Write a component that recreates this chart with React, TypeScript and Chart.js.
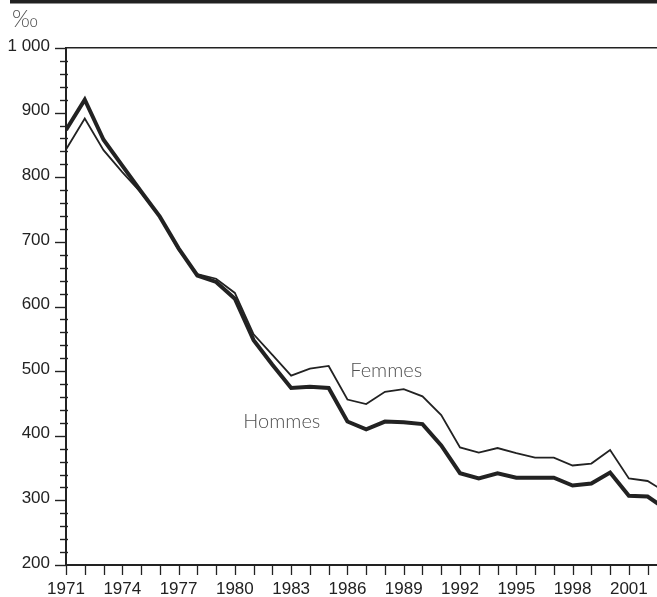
import React, { useEffect, useRef } from "react";
import { Chart, registerables } from "chart.js";

Chart.register(...registerables);

const years = [
  1971, 1972, 1973, 1974, 1975, 1976, 1977, 1978, 1979, 1980, 1981, 1982,
  1983, 1984, 1985, 1986, 1987, 1988, 1989, 1990, 1991, 1992, 1993, 1994,
  1995, 1996, 1997, 1998, 1999, 2000, 2001, 2002, 2003,
];

const hommes = [
  873, 920, 858, 818, 778, 739, 690, 648, 638, 612, 548, 510, 474, 476, 474,
  422, 410, 422, 421, 418, 385, 342, 334, 342, 335, 335, 335, 323, 326, 343,
  307, 306, 286,
];

const femmes = [
  843, 891, 842, 808, 776, 739, 688, 650, 643, 621, 557, 525, 493, 504, 508,
  456, 449, 468, 472, 461, 432, 382, 374, 381, 373, 366, 366, 354, 357, 378,
  334, 330, 312,
];

const yTickLabels: Record<number, string> = {
  200: "200",
  300: "300",
  400: "400",
  500: "500",
  600: "600",
  700: "700",
  800: "800",
  900: "900",
  1000: "1 000",
};

const seriesLabels = [
  { text: "Femmes", year: 1986.15, value: 491 },
  { text: "Hommes", year: 1980.45, value: 412 },
];

const unitLabel = "‰";

const INK = "#222222";
const GREY = "#505050";

const decorPlugin = {
  id: "decor",
  afterDraw(chart: any) {
    const { ctx, chartArea, scales } = chart;
    const xs = scales.x;
    const ys = scales.y;
    ctx.save();
    // top bar
    ctx.fillStyle = INK;
    ctx.fillRect(10, 0, chart.width - 10, 3.5);
    // y tick marks
    ctx.strokeStyle = INK;
    ctx.lineWidth = 1.4;
    ys.ticks.forEach((t: any) => {
      const y = Math.round(ys.getPixelForValue(t.value)) + 0.5;
      ctx.beginPath();
      if (t.value % 100 === 0) {
        ctx.moveTo(chartArea.left - 11, y);
        ctx.lineTo(chartArea.left, y);
      } else {
        ctx.moveTo(chartArea.left - 6, y);
        ctx.lineTo(chartArea.left + 2, y);
      }
      ctx.stroke();
    });
    // x tick marks
    ctx.lineWidth = 1.3;
    xs.ticks.forEach((t: any) => {
      if (!Number.isInteger(t.value)) return;
      const x = Math.round(xs.getPixelForValue(t.value)) + 0.5;
      ctx.beginPath();
      ctx.moveTo(x, chartArea.bottom);
      ctx.lineTo(x, chartArea.bottom + 10);
      ctx.stroke();
    });
    // series labels
    ctx.fillStyle = GREY;
    ctx.font = "300 20px Lato, 'Open Sans', sans-serif";
    ctx.textAlign = "left";
    ctx.textBaseline = "alphabetic";
    seriesLabels.forEach((l) => {
      ctx.fillText(l.text, xs.getPixelForValue(l.year), ys.getPixelForValue(l.value));
    });
    // unit label
    ctx.font = "300 23px Lato, 'DejaVu Sans', sans-serif";
    ctx.fillText(unitLabel, 12, 27);
    ctx.restore();
  },
};

export default function App() {
  const ref = useRef<HTMLCanvasElement | null>(null);

  useEffect(() => {
    if (!ref.current) return;
    const chart = new Chart(ref.current, {
      type: "line",
      data: {
        datasets: [
          {
            label: "Femmes",
            data: years.map((y, i) => ({ x: y, y: femmes[i] })),
            borderColor: INK,
            borderWidth: 1.8,
            pointRadius: 0,
            tension: 0,
            borderJoinStyle: "miter",
            fill: false,
          },
          {
            label: "Hommes",
            data: years.map((y, i) => ({ x: y, y: hommes[i] })),
            borderColor: INK,
            borderWidth: 4,
            pointRadius: 0,
            tension: 0,
            borderJoinStyle: "miter",
            fill: false,
          },
        ],
      },
      options: {
        responsive: false,
        animation: false,
        devicePixelRatio: 1,
        layout: { padding: { top: 48, left: 0, right: 0, bottom: 0 } },
        plugins: {
          legend: { display: false },
          tooltip: { enabled: false },
          title: { display: false },
        },
        scales: {
          x: {
            type: "linear",
            min: 1971,
            max: 2002.5,
            afterFit: (s: any) => {
              s.height = 32;
              s.paddingLeft = 0;
              s.paddingRight = 0;
            },
            grid: { display: true, drawOnChartArea: false, drawTicks: false },
            border: { display: true, color: INK, width: 2 },
            ticks: {
              stepSize: 1,
              includeBounds: false,
              autoSkip: false,
              maxRotation: 0,
              minRotation: 0,
              padding: 14,
              color: INK,
              font: { family: "'Liberation Sans', Arial, sans-serif", size: 17 },
              callback: (v: any) => {
                const n = Number(v);
                return Number.isInteger(n) && (n - 1971) % 3 === 0 ? String(n) : "";
              },
            },
          },
          y: {
            type: "linear",
            min: 200,
            max: 1000,
            afterFit: (s: any) => {
              s.width = 66;
            },
            grid: {
              display: true,
              drawOnChartArea: true,
              drawTicks: false,
              color: (c: any) => (c.tick && c.tick.value === 1000 ? INK : "rgba(0,0,0,0)"),
              lineWidth: (c: any) => (c.tick && c.tick.value === 1000 ? 1.5 : 0),
            },
            border: { display: true, color: INK, width: 2 },
            ticks: {
              stepSize: 20,
              autoSkip: false,
              padding: 16,
              labelOffset: -2,
              color: INK,
              font: { family: "'Liberation Sans', Arial, sans-serif", size: 17 },
              callback: (v: any) => yTickLabels[Number(v)] ?? "",
            },
          },
        },
      },
      plugins: [decorPlugin],
    });
    return () => chart.destroy();
  }, []);

  return (
    <div
      style={{
        position: "fixed",
        left: 0,
        top: 0,
        width: 657,
        height: 597,
        overflow: "hidden",
        background: "#fff",
      }}
    >
      <canvas ref={ref} width={657} height={597} style={{ display: "block" }} />
    </div>
  );
}
